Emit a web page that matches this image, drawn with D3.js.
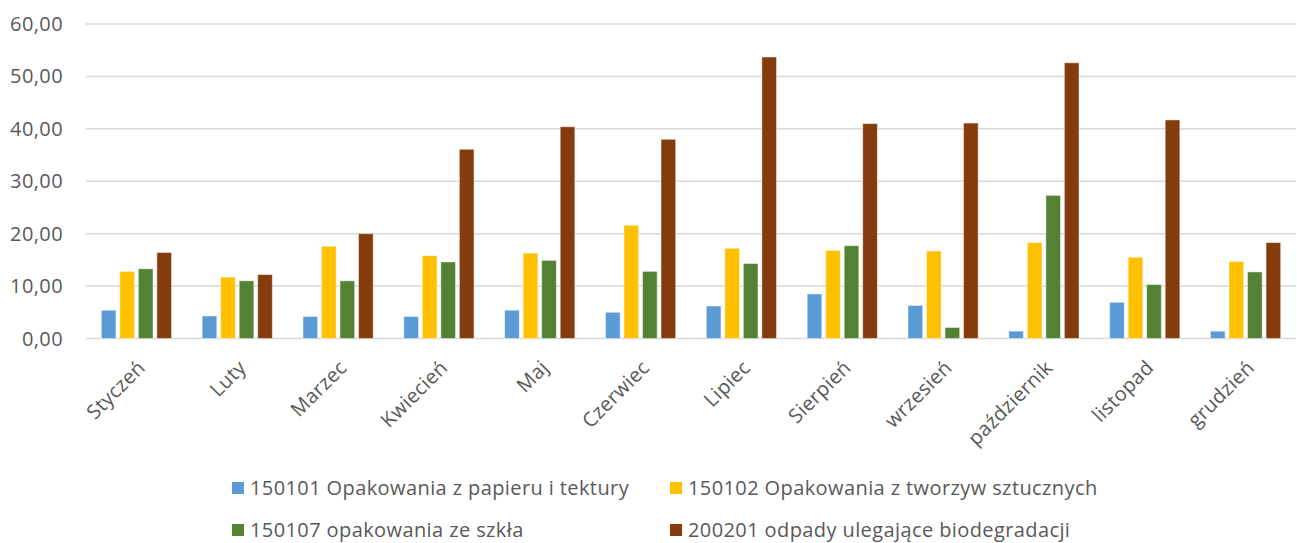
<!DOCTYPE html>
<html>
<head>
<meta charset="utf-8">
<script src="https://cdn.jsdelivr.net/npm/d3@7"></script>
<style>
  body { margin: 0; background: #fff; }
  svg text { font-family: "Open Sans", sans-serif; fill: #595959; }
</style>
</head>
<body>
<div id="chart"></div>
<script>
const months = ["Styczeń", "Luty", "Marzec", "Kwiecień", "Maj", "Czerwiec", "Lipiec",
  "Sierpień", "wrzesień", "październik", "listopad", "grudzień"];
const seriesNames = ["150101 Opakowania z papieru i tektury", "150102 Opakowania z tworzyw sztucznych",
  "150107 opakowania ze szkła", "200201 odpady ulegające biodegradacji"];
const paper = [5.4, 4.3, 4.2, 4.2, 5.4, 5.0, 6.2, 8.5, 6.3, 1.4, 6.9, 1.4];
const plastic = [12.8, 11.7, 17.6, 15.8, 16.3, 21.6, 17.2, 16.8, 16.7, 18.3, 15.5, 14.7];
const glass = [13.3, 11.0, 11.0, 14.6, 14.9, 12.8, 14.3, 17.7, 2.1, 27.3, 10.3, 12.7];
const bio = [16.4, 12.2, 20.0, 36.1, 40.4, 38.0, 53.7, 41.0, 41.1, 52.6, 41.7, 18.3];
const yTicks = [0, 10, 20, 30, 40, 50, 60];
const colors = ["#5B9BD5", "#FFC000", "#548235", "#843C0C"];

const allSeries = [paper, plastic, glass, bio];
const w = 1297, h = 543;
const plotLeft = 86, plotRight = 1296, plotTop = 24, plotBottom = 338.5;

const svg = d3.select("#chart").append("svg")
  .attr("width", w).attr("height", h);

const x0 = d3.scaleBand().domain(months).range([plotLeft, plotRight]);
const gap = x0.bandwidth() * 0.152;
const x1 = d3.scaleBand().domain(d3.range(4))
  .range([gap, x0.bandwidth() - gap]).paddingInner(0.21);
const y = d3.scaleLinear().domain([0, 60]).range([plotBottom, plotTop]);

// gridlines
svg.append("g")
  .selectAll("line")
  .data(yTicks)
  .enter().append("line")
  .attr("x1", plotLeft).attr("x2", plotRight)
  .attr("y1", d => y(d)).attr("y2", d => y(d))
  .attr("stroke", "#d9d9d9").attr("stroke-width", 1.5);

// y labels
const fmt = d => d3.format(".2f")(d).replace(".", ",");
svg.append("g")
  .selectAll("text")
  .data(yTicks)
  .enter().append("text")
  .attr("x", 63).attr("y", d => y(d))
  .attr("dy", "0.35em")
  .attr("text-anchor", "end")
  .style("font-size", "20px")
  .style("letter-spacing", "0.4px")
  .text(fmt);

// bars
const groups = svg.append("g")
  .selectAll("g")
  .data(months)
  .enter().append("g")
  .attr("transform", d => "translate(" + x0(d) + ",0)");

groups.selectAll("rect")
  .data((d, i) => allSeries.map((s, k) => ({ k: k, v: s[i] })))
  .enter().append("rect")
  .attr("x", d => x1(d.k))
  .attr("width", x1.bandwidth())
  .attr("y", d => y(d.v))
  .attr("height", d => y(0) - y(d.v))
  .attr("fill", d => colors[d.k])
  .attr("stroke", "rgba(255,255,255,0.45)")
  .attr("stroke-width", 1);

// x labels
svg.append("g")
  .selectAll("text")
  .data(months)
  .enter().append("text")
  .attr("text-anchor", "end")
  .attr("transform", d => "translate(" + (x0(d) + x0.bandwidth() / 2 + 10) + "," + 369 + ") rotate(-45)")
  .style("font-size", "20px")
  .style("letter-spacing", "0.3px")
  .text(d => d);

// legend
const legendPos = [[232, 488], [670, 488], [232, 530], [670, 530]];
const legend = svg.append("g")
  .selectAll("g")
  .data(seriesNames)
  .enter().append("g")
  .attr("transform", (d, i) => "translate(" + legendPos[i][0] + "," + legendPos[i][1] + ")");
legend.append("rect")
  .attr("x", 0).attr("y", -6).attr("width", 12).attr("height", 12)
  .attr("fill", (d, i) => colors[i]);
legend.append("text")
  .attr("x", 18).attr("dy", "0.35em")
  .style("font-size", "20px")
  .style("letter-spacing", "0.4px")
  .text(d => d);
</script>
</body>
</html>
